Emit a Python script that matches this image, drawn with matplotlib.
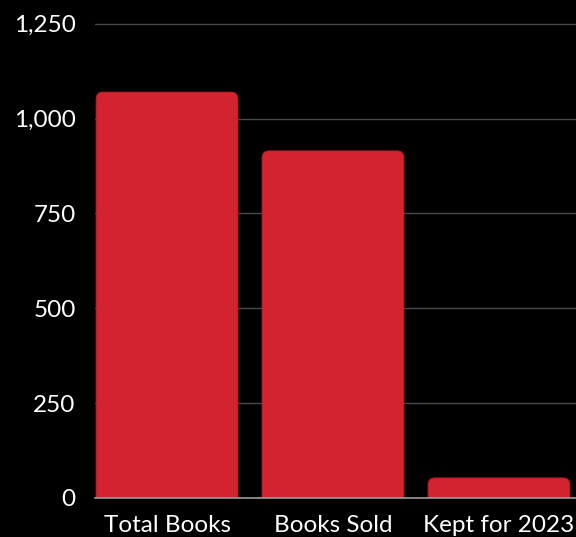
import matplotlib.pyplot as plt
from matplotlib.patches import FancyBboxPatch
from matplotlib.ticker import FuncFormatter

categories = ["Total Books", "Books Sold", "Kept for 2023"]
values = [1070, 915, 53]
yticks = [0, 250, 500, 750, 1000, 1250]

bar_color = "#d2232f"
plt.rcParams["font.family"] = ["Lato", "DejaVu Sans"]

fig = plt.figure(figsize=(5.76, 5.37), dpi=100, facecolor="black")
ax = fig.add_axes([95 / 576, 1 - 498 / 537, 481 / 576, 475 / 537])
ax.set_facecolor("black")

x = list(range(len(categories)))
ax.set_xlim(-0.434, 2.464)
ax.set_ylim(0, 1252)

# plain bars give the positions, then rounded patches take their place
bars = ax.bar(x, values, width=0.855, color=bar_color)
px_x = 481 / (2.464 + 0.434)
px_y = 475 / 1252
aspect = px_x / px_y
r = 7 / px_x
for b in bars:
    b.set_visible(False)
    p = FancyBboxPatch((b.get_x(), -30), b.get_width(), b.get_height() + 30,
                       boxstyle=f"round,pad=0,rounding_size={r}",
                       mutation_aspect=aspect, facecolor=bar_color,
                       edgecolor="#b01c27", linewidth=0.6, zorder=2)
    ax.add_patch(p)

ax.set_yticks(yticks)
ax.yaxis.set_major_formatter(FuncFormatter(lambda v, _: f"{int(v):,}"))
ax.grid(axis="y", color="#4a4a4a", linewidth=1, zorder=0)
ax.set_axisbelow(True)
ax.axhline(0, color="#9a9a9a", linewidth=1.2, zorder=3, clip_on=False)

ax.set_xticks(x)
ax.set_xticklabels(categories)
ax.tick_params(axis="both", length=0, colors="white", labelsize=17.5)
ax.tick_params(axis="y", pad=14)
ax.tick_params(axis="x", pad=12.5)
for s in ax.spines.values():
    s.set_visible(False)

fig.savefig("out.png", dpi=100, facecolor="black")
